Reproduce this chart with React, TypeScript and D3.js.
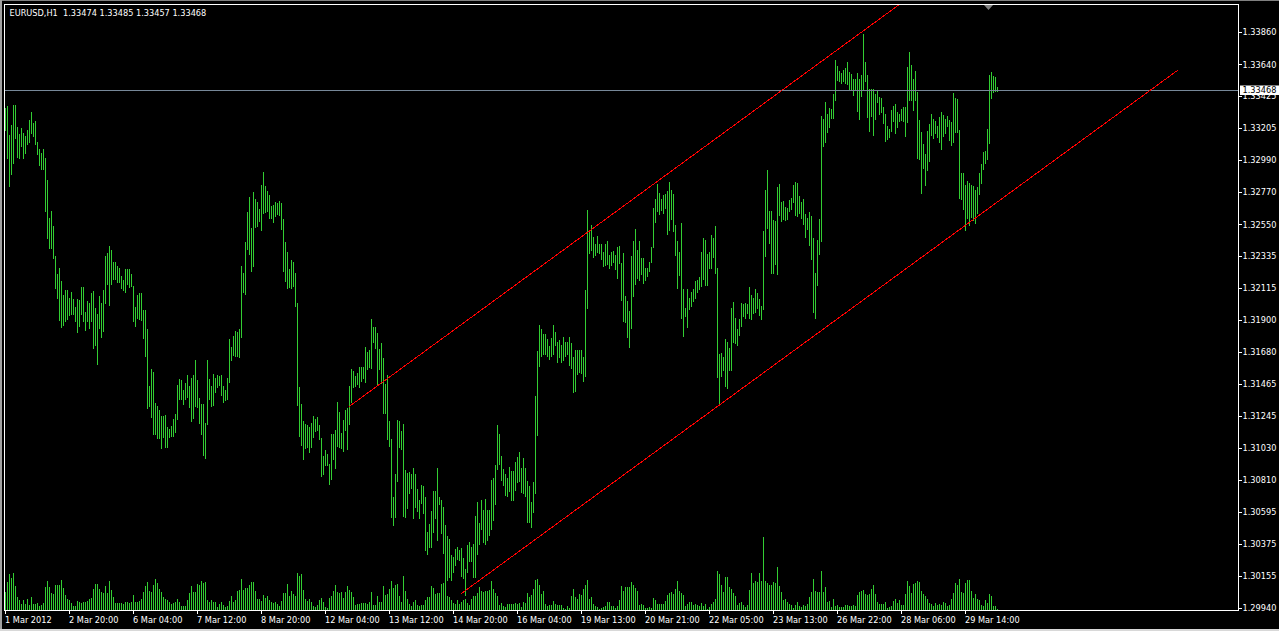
import React, { useEffect } from "react";
import * as d3 from "d3";

const W = 1279;
const H = 631;

const symbolTitle = "EURUSD,H1";
const lastQuote = ["1.33474", "1.33485", "1.33457", "1.33468"];
const currentPrice = 1.33468;

const highs: number[] = [
  1.33342,1.33356,1.33158,1.33227,1.33363,1.33363,1.33213,1.33165,1.33206,1.33172,
  1.33151,1.33193,1.33262,1.33315,1.33241,1.33255,1.33112,1.33062,1.33036,1.33064,
  1.33002,1.32852,1.32595,1.32641,1.32539,1.32335,1.32213,1.32254,1.32165,1.32066,
  1.32105,1.32105,1.32050,1.32091,1.32043,1.31987,1.32043,1.32036,1.32125,1.32125,
  1.31951,1.32029,1.32015,1.32084,1.32098,1.31981,1.31937,1.32063,1.32015,1.32105,
  1.32335,1.32355,1.32404,1.32376,1.32296,1.32296,1.32268,1.32254,1.32199,1.32171,
  1.32247,1.32247,1.32247,1.32213,1.32132,1.31990,1.32070,1.32084,1.32084,1.31969,
  1.31969,1.31838,1.31449,1.31562,1.31546,1.31334,1.31311,1.31288,1.31247,1.31247,
  1.31254,1.31173,1.31157,1.31178,1.31226,1.31256,1.31456,1.31497,1.31491,1.31422,
  1.31470,1.31525,1.31451,1.31504,1.31525,1.31629,1.31491,1.31369,1.31330,1.31330,
  1.31199,1.31629,1.31497,1.31451,1.31532,1.31504,1.31525,1.31518,1.31525,1.31449,
  1.31424,1.31504,1.31771,1.31716,1.31790,1.31824,1.31817,1.31838,1.32268,1.32217,
  1.32429,1.32634,1.32735,1.32526,1.32772,1.32723,1.32703,1.32654,1.32818,1.32907,
  1.32811,1.32779,1.32751,1.32675,1.32682,1.32703,1.32698,1.32710,1.32696,1.32588,
  1.32429,1.32362,1.32247,1.32309,1.32293,1.32220,1.32015,1.31445,1.31325,1.31212,
  1.31192,1.31185,1.31171,1.31199,1.31247,1.31226,1.31240,1.31185,1.31093,1.30971,
  1.31017,1.30985,1.30916,1.31125,1.31125,1.31150,1.31341,1.31274,1.31127,1.31219,
  1.31284,1.31300,1.31451,1.31562,1.31553,1.31518,1.31539,1.31578,1.31580,1.31580,
  1.31716,1.31679,1.31695,1.31907,1.31854,1.31854,1.31813,1.31704,1.31744,1.31642,
  1.31461,1.31525,1.31212,1.31090,1.30697,1.30847,1.31219,1.31212,1.31146,1.31192,
  1.30881,1.30860,1.30865,1.30849,1.30893,1.30847,1.30748,1.30670,1.30778,1.30771,
  1.30695,1.30458,1.30513,1.30601,1.30736,1.30736,1.30893,1.30695,1.30670,1.30628,
  1.30506,1.30428,1.30405,1.30297,1.30283,1.30341,1.30354,1.30336,1.30347,1.30276,
  1.30203,1.30369,1.30385,1.30350,1.30371,1.30566,1.30663,1.30518,1.30674,1.30603,
  1.30681,1.30603,1.30607,1.30812,1.30826,1.30911,1.31182,1.31120,1.30975,1.30886,
  1.30853,1.30825,1.30896,1.30868,1.30868,1.30934,1.30963,1.31001,1.30894,1.30957,
  1.30894,1.30804,1.30766,1.30658,1.30799,1.31382,1.31688,1.31864,1.31836,1.31801,
  1.31801,1.31770,1.31724,1.31775,1.31864,1.31816,1.31747,1.31765,1.31727,1.31783,
  1.31750,1.31750,1.31783,1.31739,1.31650,1.31698,1.31698,1.31698,1.31698,1.31645,
  1.32102,1.32651,1.32501,1.32549,1.32465,1.32416,1.32468,1.32419,1.32414,1.32360,
  1.32414,1.32434,1.32342,1.32363,1.32370,1.32340,1.32396,1.32406,1.32289,1.32355,
  1.32064,1.32025,1.31959,1.32332,1.32434,1.32516,1.32373,1.32434,1.32322,1.32322,
  1.32255,1.32255,1.32296,1.32393,1.32664,1.32720,1.32828,1.32764,1.32726,1.32748,
  1.32759,1.32774,1.32838,1.32787,1.32759,1.32549,1.32434,1.32365,1.32562,1.32107,
  1.31982,1.32107,1.32051,1.32089,1.32107,1.32163,1.32174,1.32189,1.32360,1.32455,
  1.32447,1.32345,1.32363,1.32480,1.32457,1.32536,1.32255,1.31668,1.31673,1.31650,
  1.31770,1.31750,1.31711,1.31980,1.32020,1.31910,1.31841,1.31903,1.32013,1.32008,
  1.32018,1.32008,1.32122,1.32066,1.32048,1.32110,1.32084,1.32041,1.31995,1.32503,
  1.32787,1.32922,1.32644,1.32639,1.32580,1.32575,1.32802,1.32828,1.32705,1.32710,
  1.32669,1.32664,1.32713,1.32731,1.32817,1.32838,1.32835,1.32741,1.32702,1.32723,
  1.32618,1.32593,1.32634,1.32608,1.32455,1.32217,1.32447,1.32590,1.33290,1.33265,
  1.33385,1.33303,1.33344,1.33334,1.33438,1.33671,1.33630,1.33594,1.33584,1.33602,
  1.33615,1.33656,1.33587,1.33571,1.33541,1.33541,1.33579,1.33541,1.33566,1.33847,
  1.33656,1.33564,1.33474,1.33474,1.33474,1.33436,1.33467,1.33415,1.33408,1.33352,
  1.33300,1.33219,1.33198,1.33326,1.33354,1.33367,1.33318,1.33303,1.33339,1.33346,
  1.33352,1.33625,1.33725,1.33633,1.33543,1.33594,1.33451,1.33260,1.33180,1.33099,
  1.33027,1.33183,1.33231,1.33303,1.33267,1.33252,1.33219,1.33283,1.33316,1.33293,
  1.33270,1.33290,1.33262,1.33247,1.33446,1.33413,1.33405,1.33196,1.32902,1.32899,
  1.32817,1.32848,1.32830,1.32815,1.32812,1.32784,1.32807,1.32902,1.32961,1.33040,
  1.33053,1.33201,1.33564,1.33587,1.33559,1.33551,1.33485,
];

const lows: number[] = [
  1.33193,1.33002,1.32813,1.32896,1.32970,1.33140,1.33011,1.33002,1.33087,1.33004,
  1.33039,1.33096,1.33114,1.33172,1.33151,1.33098,1.33032,1.32951,1.32930,1.32930,
  1.32643,1.32454,1.32392,1.32392,1.32323,1.32114,1.32052,1.31900,1.31854,1.31868,
  1.31895,1.31909,1.31930,1.31937,1.31937,1.31889,1.31815,1.31861,1.31937,1.31895,
  1.31833,1.31895,1.31847,1.31895,1.31711,1.31732,1.31596,1.31847,1.31780,1.31826,
  1.32015,1.32142,1.32004,1.32144,1.32181,1.32181,1.32160,1.32160,1.32114,1.32100,
  1.32091,1.32146,1.32125,1.32132,1.31895,1.31859,1.31914,1.31907,1.31902,1.31774,
  1.31656,1.31297,1.31314,1.31240,1.31120,1.31120,1.31095,1.31095,1.31026,1.31100,
  1.31031,1.31037,1.31100,1.31106,1.31109,1.31134,1.31226,1.31362,1.31360,1.31325,
  1.31362,1.31376,1.31304,1.31208,1.31231,1.31314,1.31309,1.31196,1.31120,1.30982,
  1.30957,1.31192,1.31364,1.31311,1.31323,1.31410,1.31440,1.31456,1.31385,1.31343,
  1.31353,1.31364,1.31477,1.31624,1.31659,1.31656,1.31652,1.31647,1.31785,1.32091,
  1.32079,1.32385,1.32351,1.32234,1.32270,1.32535,1.32542,1.32572,1.32514,1.32625,
  1.32634,1.32641,1.32592,1.32592,1.32569,1.32606,1.32620,1.32613,1.32521,1.32234,
  1.32165,1.32114,1.32121,1.32119,1.32130,1.31997,1.31323,1.31106,1.31051,1.30950,
  1.31028,1.31035,1.31003,1.31037,1.31100,1.31143,1.31150,1.31086,1.30840,1.30849,
  1.30909,1.30909,1.30780,1.30814,1.30950,1.30890,1.31040,1.31035,1.31026,1.31010,
  1.31148,1.31024,1.31194,1.31343,1.31445,1.31449,1.31465,1.31440,1.31486,1.31504,
  1.31479,1.31562,1.31578,1.31573,1.31750,1.31711,1.31465,1.31567,1.31468,1.31267,
  1.31267,1.31086,1.31044,1.30559,1.30506,1.30559,1.30805,1.31037,1.31019,1.30566,
  1.30555,1.30617,1.30722,1.30752,1.30552,1.30628,1.30601,1.30552,1.30651,1.30582,
  1.30336,1.30306,1.30350,1.30350,1.30458,1.30552,1.30398,1.30644,1.30451,1.30315,
  1.30106,1.30129,1.30152,1.30129,1.30186,1.30228,1.30272,1.30267,1.30159,1.30143,
  1.30026,1.30186,1.30260,1.30258,1.30152,1.30152,1.30304,1.30371,1.30474,1.30389,
  1.30371,1.30403,1.30433,1.30474,1.30538,1.30644,1.30886,1.30918,1.30812,1.30774,
  1.30710,1.30702,1.30735,1.30671,1.30671,1.30740,1.30799,1.30804,1.30727,1.30722,
  1.30702,1.30523,1.30523,1.30487,1.30595,1.30722,1.31118,1.31588,1.31652,1.31670,
  1.31668,1.31652,1.31634,1.31655,1.31668,1.31729,1.31614,1.31645,1.31614,1.31627,
  1.31652,1.31665,1.31591,1.31571,1.31412,1.31417,1.31532,1.31548,1.31540,1.31484,
  1.31520,1.31982,1.32358,1.32378,1.32327,1.32340,1.32365,1.32353,1.32317,1.32266,
  1.32271,1.32281,1.32253,1.32271,1.32296,1.32245,1.32184,1.32289,1.32038,1.31893,
  1.31885,1.31783,1.31716,1.31847,1.32064,1.32143,1.32184,1.32174,1.32209,1.32148,
  1.32171,1.32199,1.32232,1.32291,1.32393,1.32567,1.32639,1.32621,1.32651,1.32628,
  1.32659,1.32485,1.32511,1.32588,1.32508,1.32342,1.32117,1.32204,1.31910,1.31788,
  1.31923,1.31849,1.31972,1.31992,1.32025,1.32051,1.32092,1.32107,1.32128,1.32179,
  1.32138,1.32138,1.32250,1.32255,1.32327,1.32217,1.31514,1.31328,1.31520,1.31558,
  1.31451,1.31435,1.31558,1.31558,1.31752,1.31744,1.31727,1.31795,1.31859,1.31923,
  1.31916,1.31944,1.31910,1.31903,1.31944,1.31954,1.31980,1.31936,1.31903,1.31974,
  1.32332,1.32524,1.32421,1.32220,1.32220,1.32281,1.32209,1.32613,1.32572,1.32588,
  1.32577,1.32588,1.32644,1.32656,1.32705,1.32613,1.32608,1.32628,1.32595,1.32552,
  1.32465,1.32519,1.32409,1.32312,1.31954,1.31916,1.32138,1.32345,1.32434,1.33081,
  1.33109,1.33178,1.33216,1.33272,1.33277,1.33400,1.33533,1.33525,1.33512,1.33523,
  1.33515,1.33505,1.33467,1.33472,1.33428,1.33467,1.33323,1.33265,1.33426,1.33467,
  1.33528,1.33283,1.33183,1.33290,1.33162,1.33265,1.33385,1.33303,1.33313,1.33239,
  1.33119,1.33129,1.33145,1.33185,1.33252,1.33170,1.33211,1.33252,1.33262,1.33252,
  1.33150,1.33247,1.33395,1.33395,1.33326,1.33400,1.33004,1.32996,1.32766,1.32932,
  1.32817,1.32920,1.32984,1.33157,1.33137,1.33173,1.33145,1.33111,1.33063,1.33155,
  1.33175,1.33219,1.33124,1.33093,1.33111,1.33180,1.33180,1.32731,1.32726,1.32654,
  1.32511,1.32593,1.32547,1.32598,1.32582,1.32562,1.32628,1.32756,1.32833,1.32927,
  1.32966,1.32996,1.33104,1.33413,1.33449,1.33456,1.33457,
];

const volumes: number[] = [
  1780,2770,3560,3170,3660,2440,1350,1020,630,960,
  630,1120,530,1290,590,630,690,430,500,730,
  2280,2870,2280,1720,1620,2480,2480,2480,2970,2210,
  1550,1060,960,730,400,400,890,790,660,830,
  790,890,1060,1220,2150,2570,2570,2150,1780,1720,
  2440,1720,2940,2010,1290,730,730,660,730,630,
  760,790,730,760,1490,760,790,920,1060,1780,
  2440,2840,1880,1850,2480,3140,2710,2080,1780,1350,
  1090,1020,760,560,660,830,1060,760,430,400,
  430,990,1680,2380,1820,1820,2640,2510,2870,2710,
  2770,960,830,960,760,790,300,630,790,530,
  330,360,920,1420,830,960,1950,2010,3100,2050,
  2210,2210,2540,2810,2840,1880,1120,1120,890,1490,
  1250,1450,1020,830,730,790,630,360,860,1680,
  1680,2640,1450,1880,1650,1390,3730,3430,3560,2050,
  1120,920,1060,830,400,300,460,960,1190,760,
  260,230,1190,1390,1880,2480,1850,1720,1780,1250,
  1780,2380,2050,1780,1320,530,560,590,660,660,
  690,560,790,1820,460,500,1450,830,830,2380,
  1550,1580,2080,2870,2180,2510,2610,1390,830,3370,
  1880,1060,630,400,790,960,500,400,500,500,
  990,1320,1290,2440,2210,1620,1680,1680,2610,2710,
  3200,1390,1350,960,730,560,1020,630,790,1020,
  1060,730,500,1060,1390,1390,1720,2280,1950,1850,
  1950,1950,2010,2870,2110,1680,1450,500,730,430,
  330,630,630,630,630,730,630,730,300,830,
  730,1720,1320,1550,2080,3000,3140,2540,1580,1950,
  630,400,500,460,860,630,460,500,460,230,
  130,400,170,1390,2150,1320,1120,1580,1490,2150,
  2540,3040,1060,1290,630,400,330,130,230,260,
  400,790,790,400,400,170,360,960,2380,1950,
  2280,2280,2340,2770,2540,2210,1950,500,630,500,
  170,230,300,170,1160,1020,630,560,560,630,
  890,1550,1680,1850,1620,2150,2870,1880,1750,1550,
  400,560,790,790,500,630,500,400,690,400,
  630,130,300,630,760,1060,3930,3600,2540,1820,
  3270,3330,2280,2150,1720,1450,500,730,790,500,
  300,500,2050,3660,2670,2870,2810,3730,2940,7330,
  2940,2670,2510,2540,2770,2670,4260,2380,1780,990,
  1060,830,630,500,230,500,830,400,300,500,
  430,630,1290,1780,3100,1880,1780,1780,3930,1820,
  2280,830,890,300,1060,430,500,260,300,300,
  530,460,400,400,460,360,1520,1820,1880,2050,
  1580,1490,1620,2150,2480,1650,830,590,560,630,
  830,230,300,430,890,1060,730,960,500,500,
  1620,2870,2380,1680,2610,2710,2870,2810,1880,1650,
  1450,1120,730,560,400,730,500,630,500,830,
  690,400,500,1060,1750,2670,2480,3100,1820,1720,
  2710,2970,3040,1950,1220,1620,1060,960,500,400,
  990,730,1580,1390,400,400,130,
];

const timeLabels = [
  "1 Mar 2012", "2 Mar 20:00", "6 Mar 04:00", "7 Mar 12:00", "8 Mar 20:00",
  "12 Mar 04:00", "13 Mar 12:00", "14 Mar 20:00", "16 Mar 04:00", "19 Mar 13:00",
  "20 Mar 21:00", "22 Mar 05:00", "23 Mar 13:00", "26 Mar 22:00", "28 Mar 06:00",
  "29 Mar 14:00",
];
const timeLabelBars = [0, 32, 64, 96, 128, 160, 192, 224, 256, 288, 320, 352, 384, 416, 448, 480];

const priceTicks = [
  1.3386, 1.3364, 1.33425, 1.33205, 1.3299, 1.3277, 1.3255, 1.32335, 1.32115, 1.319,
  1.3168, 1.31465, 1.31245, 1.3103, 1.3081, 1.30595, 1.30375, 1.30155, 1.2994,
];

// channel lines: [barIndex, price] endpoints
const upperLine = [[172, 1.31309], [460, 1.34175]];
const lowerLine = [[228, 1.30035], [586.5, 1.33601]];

const FONT = "Tahoma, 'DejaVu Sans', sans-serif";
const FS = 8.2;
const GREEN = "#32cd32";

export default function App() {
  useEffect(() => {
    document.body.style.margin = "0";
    document.body.style.background = "#000";
  }, []);

  const plotL = 4.5, plotR = 1238.5, plotT = 4.5, plotB = 610.5;
  const x = d3.scaleLinear().domain([0, 496]).range([5, 997]);
  const y = d3.scaleLinear().domain([1.2994, 1.3386]).range([607.7, 32]);
  const v = d3.scaleLinear().domain([0, 10000]).range([610, 510]);
  const line = d3.line<number[]>().x((d) => x(d[0])).y((d) => y(d[1]));

  const cy = y(currentPrice);

  return (
    <svg
      width={W}
      height={H}
      style={{ position: "fixed", left: 0, top: 0, display: "block" }}
      fontFamily={FONT}
      fontSize={FS}
    >
      <defs>
        <clipPath id="plotClip">
          <rect x={plotL + 0.5} y={plotT + 0.5} width={plotR - plotL - 1} height={plotB - plotT - 1} />
        </clipPath>
      </defs>
      <rect x={0} y={0} width={W} height={H} fill="#000" />
      <rect x={0} y={0} width={W} height={1} fill="#808080" />
      <rect x={0} y={0} width={2} height={H} fill="#a0a0a0" />
      <rect x={0} y={629} width={W} height={2} fill="#d8d8d8" />

      {/* volumes */}
      <g shapeRendering="crispEdges" stroke={GREEN} strokeWidth={1}>
        {volumes.map((vol, i) => (
          <line key={"v" + i} x1={Math.round(x(i)) + 0.5} x2={Math.round(x(i)) + 0.5} y1={610} y2={v(vol)} />
        ))}
      </g>

      {/* price bars */}
      <g shapeRendering="crispEdges" stroke={GREEN} strokeWidth={1}>
        {highs.map((h, i) => (
          <line
            key={"b" + i}
            x1={Math.round(x(i)) + 0.5}
            x2={Math.round(x(i)) + 0.5}
            y1={Math.round(y(h))}
            y2={Math.round(y(lows[i])) + 1}
          />
        ))}
      </g>

      {/* current price line */}
      <line x1={plotL} x2={plotR} y1={Math.round(cy) + 0.5} y2={Math.round(cy) + 0.5} stroke="#778899" strokeWidth={1} shapeRendering="crispEdges" />

      {/* channel lines */}
      <g clipPath="url(#plotClip)" fill="none" stroke="#ff0000" strokeWidth={1} shapeRendering="crispEdges">
        <path d={line(upperLine) || ""} />
        <path d={line(lowerLine) || ""} />
      </g>

      {/* frame */}
      <rect x={plotL} y={plotT} width={plotR - plotL} height={plotB - plotT} fill="none" stroke="#ffffff" strokeWidth={1} shapeRendering="crispEdges" />

      {/* shift marker */}
      <polygon points="984,5 993,5 988.5,10" fill="#808080" />

      {/* title */}
      <text x={9.5} y={16} fill="#ffffff" style={{ whiteSpace: "pre" }}>
        {symbolTitle + "  " + lastQuote.join(" ")}
      </text>

      {/* price axis */}
      <g>
        {priceTicks.map((p) => (
          <g key={"p" + p}>
            <line x1={plotR} x2={plotR + 3} y1={Math.round(y(p)) + 0.5} y2={Math.round(y(p)) + 0.5} stroke="#fff" shapeRendering="crispEdges" />
            <text x={1242.5} y={y(p) + 3.2} fill="#ffffff">{p.toFixed(5)}</text>
          </g>
        ))}
      </g>

      {/* current price label */}
      <rect x={1240} y={Math.round(cy) - 4.5} width={39} height={9.5} fill="#ffffff" />
      <text x={1242.5} y={cy + 3.4} fill="#000000">{currentPrice.toFixed(5)}</text>

      {/* time axis */}
      <g>
        {timeLabelBars.map((b, k) => (
          <g key={"t" + k}>
            <line x1={Math.round(x(b)) + 0.5} x2={Math.round(x(b)) + 0.5} y1={plotB} y2={plotB + 3} stroke="#fff" shapeRendering="crispEdges" />
            <text x={Math.round(x(b))} y={622.5} fill="#ffffff">{timeLabels[k]}</text>
          </g>
        ))}
      </g>
    </svg>
  );
}
